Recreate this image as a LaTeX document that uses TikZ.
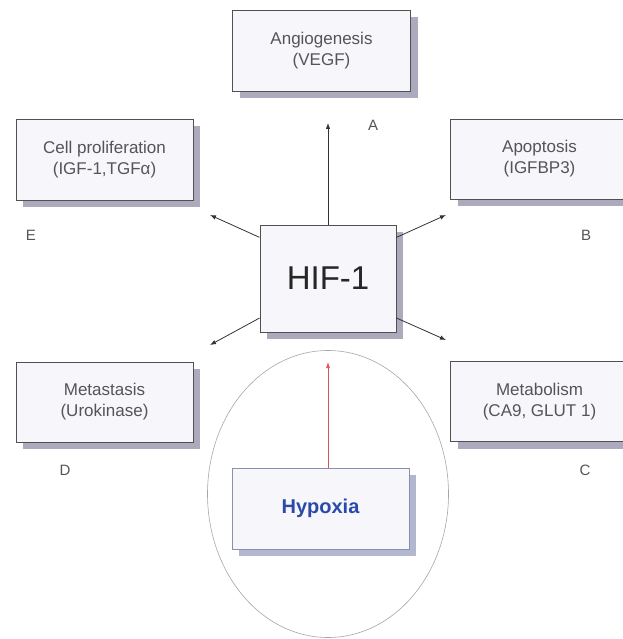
\documentclass[tikz,border=0pt]{standalone}
\usepackage{fontspec}
\setmainfont{Liberation Sans}
\usepackage{xcolor}
\usetikzlibrary{positioning,shapes,arrows.meta,shadows,calc}

\definecolor{boxfill}{HTML}{F6F6FB}
\definecolor{boxline}{HTML}{505050}
\definecolor{boxshadow}{HTML}{ABABBD}
\definecolor{hypline}{HTML}{8890B0}
\definecolor{hypshadow}{HTML}{B2B6CE}
\definecolor{hyptext}{HTML}{2A4AAA}
\definecolor{txtgray}{HTML}{555555}
\definecolor{redline}{HTML}{E05050}

\tikzset{
  effectbox/.style={draw=boxline, fill=boxfill, line width=0.9pt,
    minimum width=178pt, minimum height=81pt, align=center,
    text=txtgray, font=\fontsize{17}{21}\selectfont,
    drop shadow={shadow xshift=7pt, shadow yshift=-7pt, fill=boxshadow, opacity=1}},
  letterlabel/.style={text=txtgray, font=\fontsize{15}{18}\selectfont},
  effectarrow/.style={draw=black!80, line width=0.8pt, -{Latex[length=6pt,width=4.5pt]}}
}

\begin{document}
\begin{tikzpicture}[x=1pt,y=-1pt]
    \useasboundingbox (0,0) rectangle (622,639);

    % Hypoxia ellipse
    \node (ring) at (328,494) [ellipse, draw=black!35, line width=0.6pt,
      minimum width=241pt, minimum height=287pt, inner sep=0pt] {};

    % Effect boxes
    \node (angio) at (321.5,51) [effectbox] {Angiogenesis\\(VEGF)};
    \node (prolif) at (104.5,159.5) [effectbox, minimum width=177pt] {Cell proliferation\\(IGF-1,TGFα)};
    \node (apopt) at (539.5,159) [effectbox, minimum height=80pt] {Apoptosis\\(IGFBP3)};
    \node (metast) at (104.5,402) [effectbox, minimum width=177pt, minimum height=80pt] {Metastasis\\(Urokinase)};
    \node (metab) at (539.5,401.5) [effectbox, minimum height=80pt] {Metabolism\\(CA9, GLUT 1)};

    % Centre
    \node (hif) at (328,278.5) [effectbox, minimum width=136pt, minimum height=107pt,
      text=black!85, font=\fontsize{33}{38}\selectfont] {HIF-1};

    % Hypoxia
    \node (hyp) at (320.5,508.5) [effectbox, draw=hypline, fill=boxfill, minimum width=177pt,
      text=hyptext, font=\fontsize{20}{24}\selectfont\bfseries,
      drop shadow={shadow xshift=7pt, shadow yshift=-7pt, fill=hypshadow, opacity=1}] {Hypoxia};

    % Letters
    \node (la) at (373,125) [letterlabel] {A};
    \node (lb) at (586,235) [letterlabel] {B};
    \node (lc) at (585,470) [letterlabel] {C};
    \node (ld) at (65,470) [letterlabel] {D};
    \node (le) at (31,235) [letterlabel] {E};

    % Arrow ends
    \coordinate (tipa) at (328,123);
    \coordinate (tipb) at (446,215);
    \coordinate (tipc) at (446,340);
    \coordinate (tipd) at (210,345);
    \coordinate (tipe) at (210,215);
    \coordinate (tiphif) at (328,362);

    % Arrows
    \draw[effectarrow] (hif.north) -- (tipa);
    \draw[effectarrow] (hif.31) -- (tipb);
    \draw[effectarrow] (hif.330) -- (tipc);
    \draw[effectarrow] (hif.210) -- (tipd);
    \draw[effectarrow] (hif.149) -- (tipe);
    \draw[draw=redline, line width=0.7pt, -{Latex[length=6pt,width=4pt]}] (hyp.north -| tiphif) -- (tiphif);
\end{tikzpicture}
\end{document}
